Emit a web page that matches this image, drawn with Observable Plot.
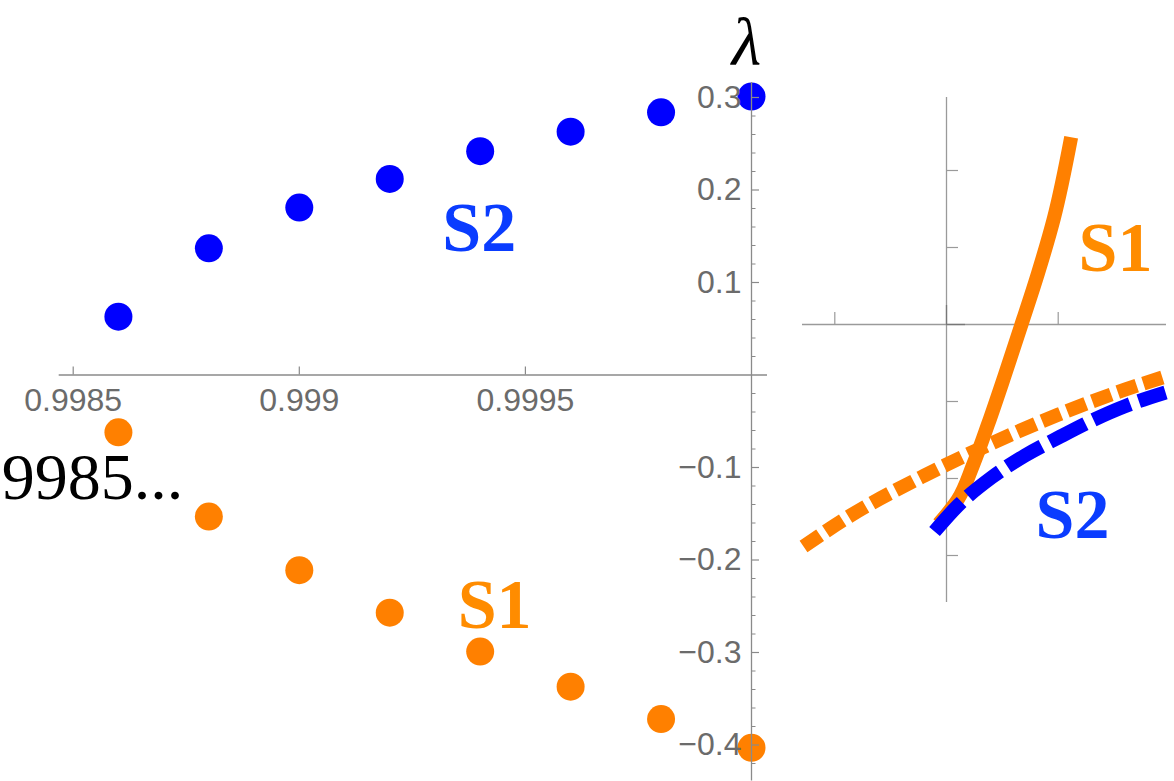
<!DOCTYPE html>
<html><head><meta charset="utf-8">
<script src="https://cdn.jsdelivr.net/npm/d3@7"></script>
<script src="https://cdn.jsdelivr.net/npm/@observablehq/plot@0.6"></script>
<style>
html,body{margin:0;padding:0;background:#fff;}
#chart{position:relative;width:1174px;height:781px;overflow:hidden;background:#fff;}
#chart svg{position:absolute;left:0;top:0;background:transparent;}
</style></head><body><div id="chart"></div>
<script>
// ---- main panel data ----
const lambdaValues = [0.9986, 0.9988, 0.999, 0.9992, 0.9994, 0.9996, 0.9998, 1.0];
const s2Values = [0.063, 0.137, 0.181, 0.212, 0.242, 0.263, 0.284, 0.301];
const s1Values = [-0.062, -0.153, -0.211, -0.257, -0.299, -0.337, -0.372, -0.403];
const xTickValues = [0.9985, 0.999, 0.9995];
const xTickLabels = ["0.9985", "0.999", "0.9995"];
const yTickValues = [-0.4, -0.3, -0.2, -0.1, 0.1, 0.2, 0.3];
const yTickLabels = ["\u22120.4", "\u22120.3", "\u22120.2", "\u22120.1", "0.1", "0.2", "0.3"];

// ---- inset data (abstract units) ----
const insetS1SolidU = [1.116, 0.962, 0.820, 0.671, 0.519, 0.372, 0.236, 0.100, -0.070];
const insetS1SolidV = [2.432, 1.383, 0.669, 0, -0.670, -1.295, -1.831, -2.277, -2.590];
const insetS1DashU = [-1.280, -0.859, -0.197, 0.403, 1.003, 1.603, 1.961];
const insetS1DashV = [-2.883, -2.481, -1.961, -1.545, -1.169, -0.844, -0.675];
const insetS2DashU = [-0.107, 0.103, 0.403, 0.703, 1.003, 1.303, 1.603, 1.961];
const insetS2DashV = [-2.688, -2.351, -1.987, -1.701, -1.468, -1.247, -1.058, -0.883];
const insetXTicks = [-1, 1];
const insetYTicks = [-3, -2, -1, 1, 2];

const BLUE = "#0000ff", ORANGE = "#ff8000";
const LBLUE = "#0a3cff", LORANGE = "#ff8c00";
const AXIS = "#8a8a8a", TICKTXT = "#6b6b6b";
const SANS = "Liberation Sans, Arial, sans-serif";
const SERIF = "Liberation Serif, Times New Roman, serif";

// main scales
const mainXRange = [72.7, 751], mainYRange = [374.5, 97];
const pxX = (1 - 0.9985) / (mainXRange[1] - mainXRange[0]);
const pxY = 0.3 / (mainYRange[0] - mainYRange[1]);

const s2Pts = lambdaValues.map((x, i) => ({x, y: s2Values[i]}));
const s1Pts = lambdaValues.map((x, i) => ({x, y: s1Values[i]}));
const minorY = d3.range(-21, 16).map(k => k * 0.02).filter(v => Math.abs(Math.round(v * 10) - v * 10) > 1e-6);

const main = Plot.plot({
  width: 1174, height: 781, margin: 0,
  x: {domain: [0.9985, 1], range: mainXRange, axis: null},
  y: {domain: [0, 0.3], range: mainYRange, axis: null},
  marks: [
    Plot.dot(s2Pts, {x: "x", y: "y", r: 14, fill: BLUE}),
    Plot.dot(s1Pts, {x: "x", y: "y", r: 14, fill: ORANGE}),
    Plot.ruleY([0], {x1: 0.9985 - 14 * pxX, x2: 1 + 16 * pxX, stroke: AXIS, strokeWidth: 1.3}),
    Plot.ruleX([1], {y1: -0.4 - 36 * pxY, y2: 0.3 + 15 * pxY, stroke: AXIS, strokeWidth: 1.3}),
    Plot.ruleX(xTickValues, {y1: 0, y2: 8 * pxY, stroke: AXIS, strokeWidth: 1.2}),
    Plot.ruleY(yTickValues, {x1: 1, x2: 1 + 8 * pxX, stroke: AXIS, strokeWidth: 1.2}),
    Plot.ruleY(minorY, {x1: 1, x2: 1 + 4.5 * pxX, stroke: AXIS, strokeWidth: 1}),
    Plot.text(xTickValues, {x: d => d, y: 0, dy: 26, text: (d, i) => xTickLabels[i], fontSize: 32, fontFamily: SANS, fill: TICKTXT}),
    Plot.text(yTickValues, {x: 1, y: d => d, dx: -10, textAnchor: "end", text: (d, i) => yTickLabels[i], fontSize: 32, fontFamily: SANS, fill: TICKTXT}),
    Plot.text(["\u03bb"], {x: 1, y: 0.3586, dx: -5, fontSize: 68, fontFamily: SERIF, fontStyle: "italic", fill: "#000"}),
    Plot.text(["9985..."], {x: 0.9985 - 71.5 * pxX, y: -0.1115, textAnchor: "start", fontSize: 66, fontFamily: SERIF, fill: "#000"}),
    Plot.text(["S2"], {x: 0.999398, y: 0.1588, fontSize: 70, fontWeight: "bold", fontFamily: SERIF, fill: LBLUE}),
    Plot.text(["S1"], {x: 0.999432, y: -0.2492, fontSize: 70, fontWeight: "bold", fontFamily: SERIF, fill: LORANGE})
  ]
});

// inset scales
const inXRange = [834.3, 1057.7], inYRange = [555, 170];
const ipxX = 2 / (inXRange[1] - inXRange[0]);
const ipxY = 5 / (inYRange[0] - inYRange[1]);
const toPts = (U, V) => U.map((u, i) => ({u, v: V[i]}));

const inset = Plot.plot({
  width: 1174, height: 781, margin: 0,
  x: {domain: [-1, 1], range: inXRange, axis: null},
  y: {domain: [-3, 2], range: inYRange, axis: null},
  marks: [
    Plot.ruleY([0], {x1: -1 - 32.3 * ipxX, x2: 1 + 108.3 * ipxX, stroke: "#9a9a9a", strokeWidth: 1.3}),
    Plot.ruleX([0], {y1: -3 - 47 * ipxY, y2: 2 + 73 * ipxY, stroke: "#9a9a9a", strokeWidth: 1.3}),
    Plot.ruleX(insetXTicks, {y1: 0, y2: 12 * ipxY, stroke: "#9a9a9a", strokeWidth: 1.2}),
    Plot.ruleY(insetYTicks, {x1: 0, x2: 12 * ipxX, stroke: "#9a9a9a", strokeWidth: 1.2}),
    Plot.ruleX([0], {y1: 0, y2: 19 * ipxY, stroke: "#777", strokeWidth: 1.3}),
    Plot.ruleY([0], {x1: 0, x2: 19 * ipxX, stroke: "#777", strokeWidth: 1.3}),
    Plot.line(toPts(insetS1SolidU, insetS1SolidV), {x: "u", y: "v", curve: "monotone-y", stroke: ORANGE, strokeWidth: 14, strokeLinecap: "butt"}),
    Plot.line(toPts(insetS1DashU, insetS1DashV), {x: "u", y: "v", curve: "monotone-x", stroke: ORANGE, strokeWidth: 14, strokeLinecap: "butt", strokeDasharray: "20,7"}),
    Plot.line(toPts(insetS2DashU, insetS2DashV), {x: "u", y: "v", curve: "monotone-x", stroke: BLUE, strokeWidth: 14, strokeLinecap: "butt", strokeDasharray: "40,9"}),
    Plot.text(["S1"], {x: 1.513, y: 0.992, fontSize: 70, fontWeight: "bold", fontFamily: SERIF, fill: LORANGE}),
    Plot.text(["S2"], {x: 1.128, y: -2.488, fontSize: 70, fontWeight: "bold", fontFamily: SERIF, fill: LBLUE})
  ]
});

const host = document.getElementById("chart");
host.appendChild(main);
host.appendChild(inset);
</script></body></html>
